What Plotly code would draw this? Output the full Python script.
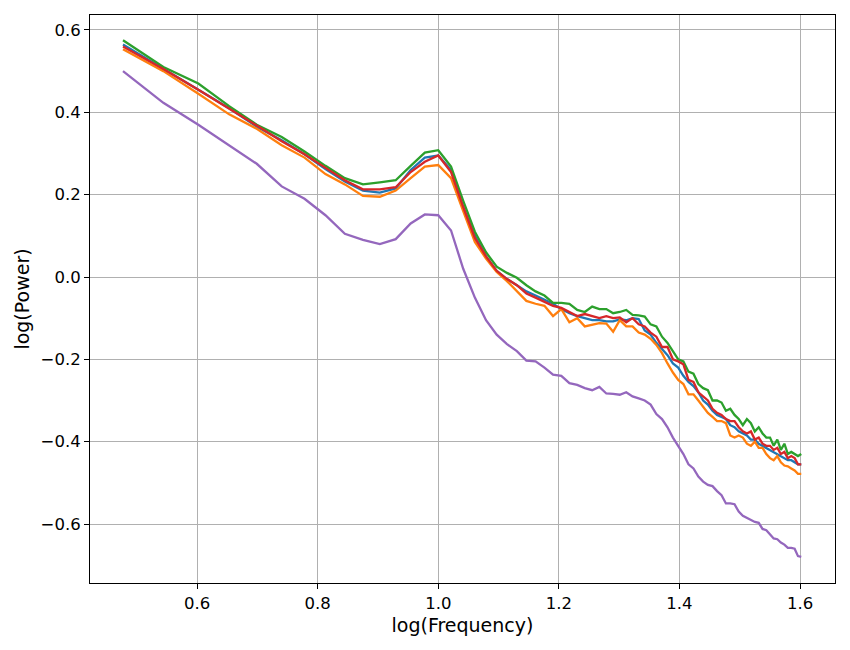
import numpy as np
import plotly.graph_objects as go

# sampled frequencies (Hz), plotted as log10
freqs = [3.0, 3.5, 4.0, 4.5, 5.0, 5.5, 6.0, 6.5, 7.0, 7.5, 8.0, 8.5, 9.0, 9.5, 10.0,
         10.5, 11.0, 11.5, 12.0, 12.5, 13.0, 13.5, 14.0, 14.5, 15.0, 15.5, 16.0, 16.5,
         17.0, 17.5, 18.0, 18.5, 19.0, 19.5, 20.0, 20.5, 21.0, 21.5, 22.0, 22.5, 23.0,
         23.5, 24.0, 24.5, 25.0, 25.5, 26.0, 26.5, 27.0, 27.5, 28.0, 28.5, 29.0, 29.5,
         30.0, 30.5, 31.0, 31.5, 32.0, 32.5, 33.0, 33.5, 34.0, 34.5, 35.0, 35.5, 36.0,
         36.5, 37.0, 37.5, 38.0, 38.5, 39.0, 39.5, 40.0]

# log10 power per series
blue = [0.565, 0.507, 0.455, 0.41, 0.365, 0.332, 0.298, 0.262, 0.232, 0.21, 0.205, 0.215, 0.26, 0.29, 0.295,
        0.26, 0.17, 0.1, 0.05, 0.015, -0.005, -0.02, -0.035, -0.045, -0.055, -0.065, -0.078, -0.088,
        -0.095, -0.1, -0.105, -0.105, -0.108, -0.108, -0.103, -0.105, -0.1, -0.102, -0.13, -0.14, -0.16,
        -0.175, -0.19, -0.21, -0.22, -0.24, -0.255, -0.265, -0.28, -0.3, -0.31, -0.325, -0.335, -0.34,
        -0.345, -0.36, -0.365, -0.375, -0.38, -0.385, -0.395, -0.395, -0.405, -0.41, -0.415, -0.42, -0.425,
        -0.43, -0.435, -0.44, -0.445, -0.445, -0.45, -0.455, -0.455]

orange = [0.553, 0.5, 0.445, 0.395, 0.36, 0.32, 0.29, 0.25, 0.225, 0.197, 0.195, 0.21, 0.24, 0.268, 0.272,
          0.24, 0.16, 0.085, 0.045, 0.012, -0.01, -0.035, -0.058, -0.065, -0.07, -0.095, -0.078, -0.11,
          -0.1, -0.12, -0.115, -0.112, -0.113, -0.133, -0.105, -0.12, -0.12, -0.135, -0.14, -0.15, -0.165,
          -0.185, -0.21, -0.232, -0.25, -0.26, -0.285, -0.285, -0.3, -0.315, -0.33, -0.34, -0.35, -0.35,
          -0.355, -0.385, -0.39, -0.385, -0.39, -0.405, -0.41, -0.4, -0.415, -0.415, -0.43, -0.44, -0.445,
          -0.435, -0.45, -0.458, -0.46, -0.465, -0.47, -0.478, -0.478]

green = [0.575, 0.51, 0.47, 0.415, 0.37, 0.34, 0.305, 0.27, 0.24, 0.225, 0.23, 0.235, 0.27, 0.302, 0.308,
         0.268, 0.185, 0.11, 0.06, 0.025, 0.01, -0.002, -0.02, -0.035, -0.045, -0.063, -0.063, -0.065,
         -0.08, -0.085, -0.072, -0.078, -0.078, -0.088, -0.085, -0.08, -0.092, -0.093, -0.096, -0.115, -0.12,
         -0.145, -0.16, -0.18, -0.2, -0.205, -0.23, -0.235, -0.26, -0.27, -0.275, -0.3, -0.3, -0.305,
         -0.325, -0.32, -0.335, -0.345, -0.36, -0.345, -0.355, -0.375, -0.365, -0.38, -0.39, -0.39, -0.41,
         -0.395, -0.42, -0.405, -0.43, -0.425, -0.43, -0.435, -0.43]

red = [0.56, 0.505, 0.455, 0.41, 0.368, 0.33, 0.298, 0.265, 0.235, 0.213, 0.213, 0.218, 0.255, 0.28, 0.295,
       0.255, 0.17, 0.095, 0.05, 0.015, -0.005, -0.02, -0.04, -0.05, -0.06, -0.07, -0.075, -0.085,
       -0.095, -0.09, -0.095, -0.1, -0.095, -0.1, -0.098, -0.11, -0.1, -0.115, -0.12, -0.135, -0.145,
       -0.17, -0.17, -0.2, -0.205, -0.212, -0.25, -0.255, -0.28, -0.29, -0.3, -0.32, -0.33, -0.335,
       -0.345, -0.35, -0.35, -0.365, -0.375, -0.38, -0.375, -0.395, -0.39, -0.405, -0.41, -0.41, -0.42,
       -0.415, -0.43, -0.425, -0.44, -0.435, -0.44, -0.455, -0.455]

purple = [0.5, 0.423, 0.37, 0.32, 0.275, 0.22, 0.19, 0.15, 0.105, 0.09, 0.08, 0.092, 0.13, 0.152, 0.15,
          0.113, 0.02, -0.05, -0.105, -0.14, -0.163, -0.18, -0.203, -0.205, -0.22, -0.237, -0.24, -0.258,
          -0.262, -0.27, -0.275, -0.267, -0.283, -0.284, -0.286, -0.28, -0.29, -0.295, -0.3, -0.31, -0.333,
          -0.345, -0.365, -0.39, -0.41, -0.43, -0.455, -0.465, -0.485, -0.497, -0.505, -0.508, -0.52, -0.53,
          -0.55, -0.55, -0.552, -0.57, -0.58, -0.585, -0.59, -0.595, -0.597, -0.612, -0.615, -0.625, -0.635,
          -0.637, -0.645, -0.65, -0.658, -0.658, -0.66, -0.678, -0.68]

series = [blue, orange, green, red, purple]
colors = ['#1f77b4', '#ff7f0e', '#2ca02c', '#d62728', '#9467bd']

log_f = np.log10(freqs)

fig = go.Figure()
for vals, c in zip(series, colors):
    fig.add_trace(go.Scatter(x=log_f, y=vals, mode='lines',
                             line=dict(color=c, width=2.3), showlegend=False))

axis_style = dict(
    showgrid=True, gridcolor='#b0b0b0', gridwidth=1.1,
    showline=True, linecolor='black', linewidth=1.1, mirror=True,
    ticks='outside', ticklen=5, tickwidth=1.1, tickcolor='black',
    tickfont=dict(size=16.5, color='black'),
    zeroline=False, dtick=0.2, tickformat='.1f', automargin=False,
)

fig.update_xaxes(range=[0.4224, 1.658], tick0=0,
                 title=dict(text='log(Frequency)', font=dict(size=19, color='black'), standoff=6),
                 **axis_style)
fig.update_yaxes(range=[-0.7433, 0.6364], tick0=0,
                 title=dict(text='log(Power)', font=dict(size=19, color='black'), standoff=5),
                 **axis_style)

# page body adds an 8px offset, so margins are shifted to keep the plot box in place
fig.update_layout(
    width=850, height=650,
    margin=dict(l=82, r=23, t=7, b=75),
    plot_bgcolor='white', paper_bgcolor='white',
    font=dict(family='DejaVu Sans', color='black'),
)

fig.write_html("out.html")
